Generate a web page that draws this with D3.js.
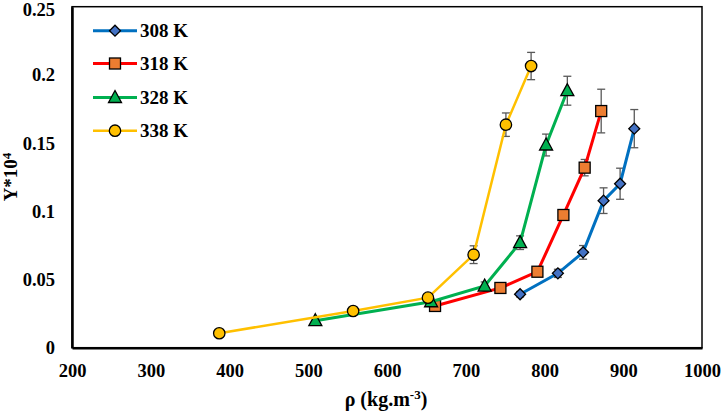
<!DOCTYPE html>
<html><head><meta charset="utf-8">
<script src="https://cdn.jsdelivr.net/npm/d3@7"></script>
<style>body{margin:0;background:#fff}svg{display:block}text{font-family:"Liberation Serif","Times New Roman",serif;font-weight:bold;fill:#000}</style>
</head><body><svg id="c" width="721" height="411"></svg>
<script>
const seriesNames = ["308 K","318 K","328 K","338 K"];
const x308 = [769,817,849,875,896,914];
const y308 = [0.0392,0.0545,0.0699,0.1078,0.1202,0.1606];
const e308 = [0.002,0.003,0.005,0.0094,0.0114,0.014];
const x318 = [661,744,791,824,851,872];
const y318 = [0.0306,0.0438,0.0557,0.0973,0.132,0.1735];
const e318 = [0.002,0.002,0.002,0.003,0.006,0.016];
const x328 = [509,656,724,769,802,829];
const y328 = [0.0198,0.0337,0.0452,0.077,0.1486,0.1884];
const e328 = [0.002,0.002,0.003,0.005,0.008,0.0106];
const x338 = [387,557,652,710,751,783];
const y338 = [0.0106,0.0269,0.0367,0.0682,0.1635,0.2065];
const e338 = [0.002,0.002,0.002,0.0065,0.0086,0.010];
const xTicks = [200,300,400,500,600,700,800,900,1000];
const yTicks = [0,0.05,0.1,0.15,0.2,0.25];
const yTickLabels = ["0","0.05","0.1","0.15","0.2","0.25"];

const lineColors = ["#0070C0","#FF0000","#00B050","#FFC000"];
const markerFills = ["#4472C4","#ED7D31","#00B050","#FFC000"];
const shapes = ["diamond","square","triangle","circle"];
const lineWidths = [3,3,3,2.5];

const data = [[x308,y308,e308],[x318,y318,e318],[x328,y328,e328],[x338,y338,e338]].map(([xs,ys,es],i)=>({
  name: seriesNames[i], pts: xs.map((v,j)=>({x:v,y:ys[j],e:es[j]}))
}));

const svg = d3.select("#c");
const L=72,R=702,T=6.7,B=347.7;
const x = d3.scaleLinear().domain([200,1000]).range([L,R]);
const y = d3.scaleLinear().domain([0,0.25]).range([B,T]);

svg.append("rect").attr("x",L).attr("y",T).attr("width",R-L).attr("height",B-T)
  .attr("fill","none").attr("stroke","#000").attr("stroke-width",1.5);

const xa = svg.append("g").attr("transform",`translate(0,${B})`)
  .call(d3.axisBottom(x).tickValues(xTicks).tickSize(0).tickPadding(16).tickFormat(d3.format("d")));
xa.select(".domain").attr("stroke","#000").attr("stroke-width",2.5);
xa.selectAll("text").attr("font-size",18.5).attr("font-family","Liberation Serif").attr("font-weight","bold");
const ya = svg.append("g").attr("transform",`translate(${L},0)`)
  .call(d3.axisLeft(y).tickValues(yTicks).tickSize(0).tickPadding(17).tickFormat((d,i)=>yTickLabels[i]));
ya.select(".domain").attr("stroke","#000").attr("stroke-width",2.5);
ya.selectAll("text").attr("font-size",18.5).attr("font-family","Liberation Serif").attr("font-weight","bold");
ya.selectAll(".tick").filter(d=>d===0.25).select("text").attr("dy","0.45em");

svg.append("text").attr("x",386).attr("y",406).attr("text-anchor","middle").attr("font-size",20)
  .html('ρ (kg.m<tspan dy="-7" font-size="13">-3</tspan><tspan dy="7">)</tspan>');
svg.append("text").attr("transform","translate(17,177) rotate(-90)").attr("text-anchor","middle").attr("font-size",19)
  .html('Y*10<tspan dy="-6" font-size="13">4</tspan>');

function drawMarker(g, shape, fill, cx, cy){
  if(shape==="diamond"){
    g.append("path").attr("d",d3.symbol().type(d3.symbolSquare).size(60)()).attr("transform",`translate(${cx},${cy}) rotate(45)`)
      .attr("fill",fill).attr("stroke","#000").attr("stroke-width",1.3);
  } else if(shape==="square"){
    g.append("rect").attr("x",cx-5.5).attr("y",cy-5.5).attr("width",11).attr("height",11)
      .attr("fill",fill).attr("stroke","#000").attr("stroke-width",1.3);
  } else if(shape==="triangle"){
    g.append("path").attr("d",`M${cx},${cy-7}L${cx+6.5},${cy+5}L${cx-6.5},${cy+5}Z`)
      .attr("fill",fill).attr("stroke","#000").attr("stroke-width",1.3);
  } else {
    g.append("circle").attr("cx",cx).attr("cy",cy).attr("r",5.7)
      .attr("fill",fill).attr("stroke","#000").attr("stroke-width",1.3);
  }
}

const line = d3.line().x(d=>x(d.x)).y(d=>y(d.y));
data.forEach((s,i)=>{
  const g = svg.append("g");
  s.pts.forEach(p=>{
    const eb = g.append("g").attr("stroke","#595959").attr("stroke-width",1.3);
    eb.append("line").attr("x1",x(p.x)).attr("x2",x(p.x)).attr("y1",y(p.y-p.e)).attr("y2",y(p.y+p.e));
    [p.y-p.e,p.y+p.e].forEach(v=>eb.append("line").attr("x1",x(p.x)-4).attr("x2",x(p.x)+4).attr("y1",y(v)).attr("y2",y(v)));
  });
  g.append("path").datum(s.pts).attr("d",line).attr("fill","none").attr("stroke",lineColors[i]).attr("stroke-width",lineWidths[i]);
  s.pts.forEach(p=>drawMarker(g,shapes[i],markerFills[i],x(p.x),y(p.y)));
});

const legY = [30.7,63.5,97.5,130.7];
data.forEach((s,i)=>{
  const g = svg.append("g");
  g.append("line").attr("x1",93).attr("x2",137).attr("y1",legY[i]).attr("y2",legY[i])
    .attr("stroke",lineColors[i]).attr("stroke-width",lineWidths[i]);
  drawMarker(g,shapes[i],markerFills[i],115,legY[i]);
  g.append("text").attr("x",140).attr("y",legY[i]+6.5).attr("font-size",19).text(s.name);
});
</script></body></html>
